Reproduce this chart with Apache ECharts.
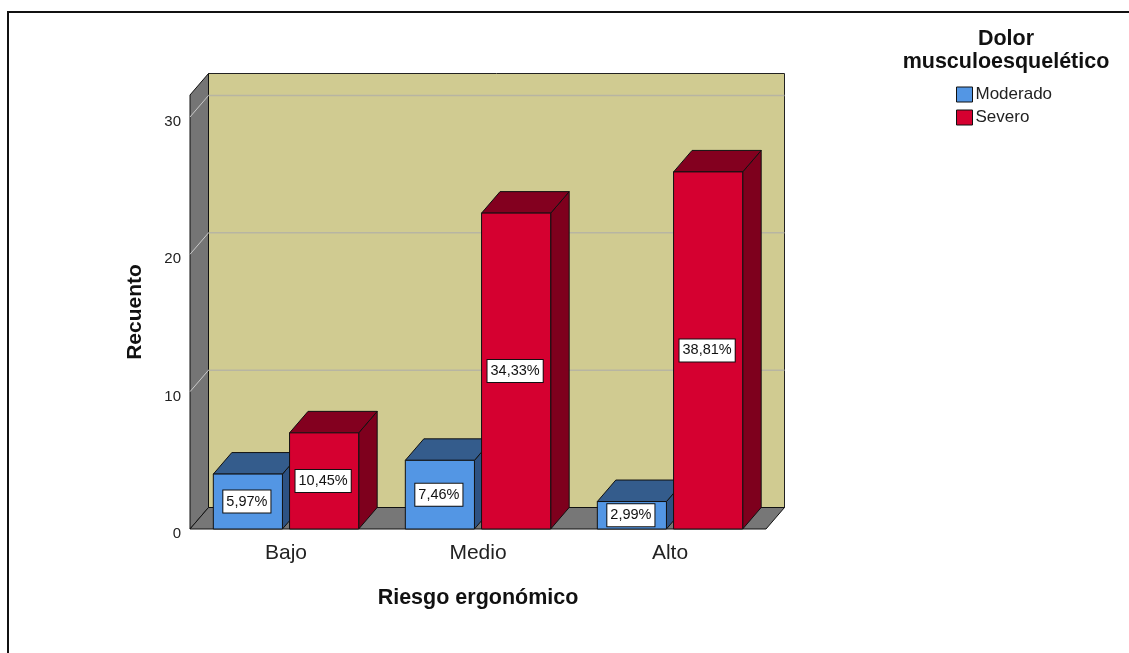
<!DOCTYPE html>
<html>
<head>
<meta charset="utf-8">
<title>Riesgo ergonómico</title>
<script src="https://cdn.jsdelivr.net/npm/echarts@6/dist/echarts.min.js"></script>
<style>
  html, body { margin: 0; padding: 0; background: #fff; }
  #chart { width: 1129px; height: 653px; }
</style>
</head>
<body>
<div id="chart"></div>
<script>
// Counts per ergonomic-risk level, split by pain severity
const categories = ['Bajo', 'Medio', 'Alto'];
const seriesNames = ['Moderado', 'Severo'];
const moderado = [4, 5, 2];
const severo = [7, 23, 26];
const yTicks = [10, 20, 30];
const total = moderado.concat(severo).reduce((a, b) => a + b, 0);

const FONT = '"Liberation Sans", Arial, sans-serif';
// depth offset of the pseudo-3D box and bars
const DX = 18.5, DY = -21.5;
const BAR_FRAC = 0.36, GAP_FRAC = 0.037;

const palette = [
  { front: '#5396E4', top: '#345C8C', side: '#2D5283' },
  { front: '#D50030', top: '#83001F', side: '#7E001D' }
];

function pct(v) {
  return (v / total * 100).toFixed(2).replace('.', ',') + '%';
}

function wallsItem(params, api) {
  const cs = params.coordSys;
  const x = cs.x, y = cs.y, w = cs.width, h = cs.height;
  const children = [
    { type: 'rect', shape: { x: x + DX, y: y + DY, width: w, height: h },
      style: { fill: '#D0CB91', stroke: '#222', lineWidth: 1 } },
    { type: 'polygon', shape: { points: [[x, y], [x + DX, y + DY], [x + DX, y + h + DY], [x, y + h]] },
      style: { fill: '#757575', stroke: '#111', lineWidth: 1 } },
    { type: 'polygon', shape: { points: [[x, y + h], [x + DX, y + h + DY], [x + w + DX, y + h + DY], [x + w, y + h]] },
      style: { fill: '#777777', stroke: '#111', lineWidth: 1 } }
  ];
  yTicks.forEach(v => {
    const yy = api.coord([0, v])[1];
    children.push({ type: 'line', shape: { x1: x + DX, y1: yy + DY, x2: x + w + DX, y2: yy + DY },
      style: { stroke: '#B7B5A2', lineWidth: 1.5 } });
    children.push({ type: 'line', shape: { x1: x, y1: yy, x2: x + DX, y2: yy + DY },
      style: { stroke: '#C9C9C9', lineWidth: 1 } });
  });
  return { type: 'group', children };
}

function barItem(params, api) {
  const s = params.seriesIndex - 1;
  const col = palette[s];
  const cat = api.value(0), v = api.value(1);
  const base = api.coord([cat, 0]);
  const top = api.coord([cat, v]);
  const band = api.size([1, 0])[0];
  const bw = band * BAR_FRAC, gap = band * GAP_FRAC;
  const x0 = s === 0 ? base[0] - gap / 2 - bw : base[0] + gap / 2;
  const x1 = x0 + bw;
  const yt = top[1], yb = base[1];
  const stroke = { stroke: '#111', lineWidth: 1 };
  return {
    type: 'group',
    children: [
      { type: 'polygon', shape: { points: [[x1, yt], [x1 + DX, yt + DY], [x1 + DX, yb + DY], [x1, yb]] },
        style: Object.assign({ fill: col.side }, stroke) },
      { type: 'polygon', shape: { points: [[x0, yt], [x1, yt], [x1 + DX, yt + DY], [x0 + DX, yt + DY]] },
        style: Object.assign({ fill: col.top }, stroke) },
      { type: 'rect', shape: { x: x0, y: yt, width: bw, height: yb - yt },
        style: Object.assign({ fill: col.front }, stroke) },
      { type: 'text', x: x0 + bw / 2 - 1, y: (yt + yb) / 2,
        style: { text: pct(v), font: '14.5px ' + FONT, fill: '#111', align: 'center', verticalAlign: 'middle',
                 backgroundColor: '#fff', borderColor: '#111', borderWidth: 1, padding: [4, 3, 3, 3] } }
    ]
  };
}

const chart = echarts.init(document.getElementById('chart'), null, { renderer: 'canvas' });
chart.setOption({
  animation: false,
  backgroundColor: '#fff',
  textStyle: { fontFamily: FONT },
  title: {
    text: 'Dolor\nmusculoesquelético',
    left: 1006, top: 28, textAlign: 'center', padding: 0,
    textStyle: { fontFamily: FONT, fontSize: 21.5, fontWeight: 'bold', color: '#111', lineHeight: 23 }
  },
  legend: {
    data: seriesNames,
    orient: 'vertical',
    left: 956, top: 86, padding: 0,
    itemWidth: 16, itemHeight: 15, itemGap: 6,
    icon: 'rect',
    itemStyle: { borderColor: '#111', borderWidth: 1 },
    textStyle: { fontFamily: FONT, fontSize: 17, color: '#222', padding: [0, 0, 0, -2] }
  },
  graphic: [{
    type: 'rect', silent: true, z: 100,
    shape: { x: 8, y: 12, width: 1400, height: 900 },
    style: { fill: 'none', stroke: '#111', lineWidth: 2 }
  }],
  grid: { left: 190, right: 363, top: 95, bottom: 124 },
  xAxis: {
    type: 'category',
    data: categories,
    name: 'Riesgo ergonómico',
    nameLocation: 'middle',
    nameGap: 58,
    nameTextStyle: { fontFamily: FONT, fontSize: 21.5, fontWeight: 'bold', color: '#111' },
    axisLine: { show: false },
    axisTick: { show: false },
    axisLabel: { fontFamily: FONT, fontSize: 21, color: '#222', margin: 14 },
    splitLine: { show: false }
  },
  yAxis: {
    type: 'value',
    min: 0, max: 31.6, interval: 10,
    name: 'Recuento',
    nameLocation: 'middle',
    nameGap: 44,
    nameTextStyle: { fontFamily: FONT, fontSize: 21, fontWeight: 'bold', color: '#111' },
    axisLine: { show: false },
    axisTick: { show: false },
    splitLine: { show: false },
    axisLabel: {
      fontFamily: FONT, fontSize: 15, color: '#222', margin: 9,
      verticalAlign: 'top', lineHeight: 10,
      formatter: v => (v % 10 === 0 ? String(v) : '')
    }
  },
  series: [
    { type: 'custom', name: 'walls', z: 1, silent: true, renderItem: wallsItem,
      data: [[0, 0]], encode: { x: 0, y: 1 } },
    { type: 'custom', name: seriesNames[0], z: 2, renderItem: barItem,
      itemStyle: { color: palette[0].front },
      data: moderado.map((v, i) => [i, v]), encode: { x: 0, y: 1 } },
    { type: 'custom', name: seriesNames[1], z: 3, renderItem: barItem,
      itemStyle: { color: palette[1].front },
      data: severo.map((v, i) => [i, v]), encode: { x: 0, y: 1 } }
  ]
});
</script>
</body>
</html>
